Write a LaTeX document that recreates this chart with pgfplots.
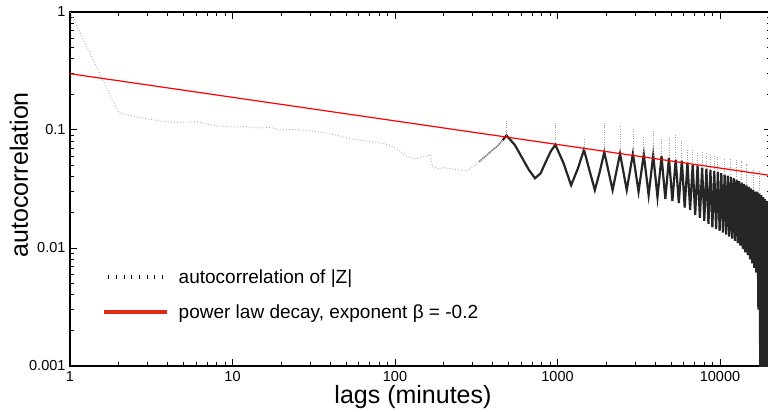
\documentclass[border=0pt]{standalone}
\usepackage{fontspec}
\setmainfont{Liberation Sans}
\usepackage{pgfplots}
\pgfplotsset{compat=1.18}
\definecolor{legred}{RGB}{222,45,18}
\begin{document}
\begin{tikzpicture}
\path[use as bounding box] (-70pt,-46pt) rectangle (698pt,366pt);
\begin{axis}[
  scale only axis, width=700.7pt, height=354pt,
  xmode=log, ymode=log, xmin=1, xmax=20500, ymin=0.001, ymax=1,
  axis line style={line width=1.3pt},
  every tick/.style={black, line width=1pt},
  major tick length=7pt, minor tick length=4pt,
  xtick={1,10,100,1000,10000}, xticklabels={1,10,100,1000,10000},
  ytick={0.001,0.01,0.1,1}, yticklabels={0.001,0.01,0.1,1},
  minor xtick={2,3,4,5,6,7,8,9,20,30,40,50,60,70,80,90,200,300,400,500,600,700,800,900,2000,3000,4000,5000,6000,7000,8000,9000,20000},
  minor ytick={0.002,0.003,0.004,0.005,0.006,0.007,0.008,0.009,0.02,0.03,0.04,0.05,0.06,0.07,0.08,0.09,0.2,0.3,0.4,0.5,0.6,0.7,0.8,0.9},
  ticklabel style={font=\fontsize{14.5}{14.5}\selectfont},
  xticklabel style={yshift=-2pt},
  yticklabel style={xshift=-1pt},
  /pgf/number format/assume math mode=true,
  xlabel={lags (minutes)}, ylabel={autocorrelation},
  label style={font=\fontsize{25}{25}\selectfont},
  xlabel style={at={(axis description cs:0.4895,-0.107)}, anchor=base},
  ylabel style={at={(axis description cs:-0.06,0.54)}, anchor=base},
  unbounded coords=jump,
  legend style={draw=none, fill=none, at={(axis description cs:0.045,0.279)}, anchor=north west,
    font=\fontsize{19}{19}\selectfont, inner sep=0pt, row sep=16pt,
    /tikz/every odd column/.append style={column sep=8pt}},
  legend cell align=left,
]
% low lags (sparse, grey dots)
\addplot[forget plot, gray!65, line width=0.9pt, dash pattern=on 0.9pt off 2pt] coordinates {
(1,1.0) (2,0.139) (3,0.124) (4,0.117) (5,0.116) (6,0.118) (7,0.112) (8,0.108)
(10,0.106) (12,0.107) (14,0.104) (17,0.105) (20,0.100) (24,0.101) (28,0.099)
(33,0.097) (38,0.094) (44,0.090) (50,0.086) (57,0.083) (65,0.081) (75,0.079)
(85,0.077) (95,0.073) (105,0.068) (115,0.061) (125,0.058) (135,0.057) (145,0.059)
(155,0.060) (165,0.062) (170,0.049) (185,0.047) (200,0.048) (220,0.047) (245,0.046)
(270,0.045) (290,0.047) (310,0.050) (340,0.056) (370,0.062) (400,0.068) (430,0.074)
};
% rising flank before the first daily peak (denser, dark grey)
\addplot[forget plot, black!55, line width=1.6pt, dash pattern=on 1.2pt off 0.8pt] coordinates {
(330,0.054) (370,0.062) (400,0.068) (430,0.074) (460,0.082)
};
% oscillating part (dense, black)
\addplot[forget plot, black!85, line width=2.2pt] coordinates {
(460,0.082) (485,0.090)
(545,0.075) (606,0.058) (666,0.046) (727,0.039) (788,0.043) (848,0.054) (909,0.066) (970,0.075)
(1091,0.052) (1212,0.034) (1333,0.047) (1455,0.068)
(1576,0.045) (1697,0.031) (1818,0.044) (1940,0.065)
(2182,0.031) (2425,0.063)
(2667,0.031) (2910,0.063)
(3152,0.030) (3395,0.062)
(3637,0.028) (3880,0.061)
(4122,0.027) (4365,0.060)
(4607,0.026) (4850,0.058)
(5092,0.025) (5335,0.056)
(5577,0.024) (5820,0.055)
(6062,0.022) (6305,0.053)
(6547,0.021) (6790,0.051)
(7032,0.019) (7275,0.050)
(7517,0.018) (7760,0.048)
(8002,0.017) (8245,0.047)
(8487,0.016) (8730,0.046)
(8972,0.015) (9215,0.045)
(9457,0.0145) (9700,0.044)
(9942,0.014) (10185,0.043)
(10427,0.0135) (10670,0.042)
(10912,0.013) (11155,0.041)
(11397,0.0125) (11640,0.040)
(11882,0.012) (12125,0.039)
(12367,0.0115) (12610,0.038)
(12852,0.011) (13095,0.037)
(13337,0.0105) (13580,0.036)
(13822,0.0098) (14065,0.035)
(14307,0.0092) (14550,0.034)
(14792,0.0087) (15035,0.033)
(15277,0.008) (15520,0.032)
(15762,0.0074) (16005,0.031)
(16247,0.0068) (16490,0.030)
(16732,0.0062) (16975,0.030)
(17217,0.003) (17460,0.029)
(17702,0.0006) (17945,0.028)
(18187,0.0005) (18430,0.027)
(18672,0.0005) (18915,0.026)
(19157,0.0005) (19400,0.025)
(19642,0.0005) (19885,0.024)
(20000,0.0005)
};
% sparse spikes above the peaks
\addplot[forget plot, gray!75, line width=0.8pt, dash pattern=on 0.8pt off 1.6pt] coordinates {
(485,0.090) (485,0.120) (485,nan)
(970,0.075) (970,0.115) (970,nan)
(1455,0.068) (1455,0.085) (1455,nan)
(1940,0.065) (1940,0.115) (1940,nan)
(2425,0.063) (2425,0.110) (2425,nan)
(2910,0.063) (2910,0.105) (2910,nan)
(3395,0.062) (3395,0.090) (3395,nan)
(3880,0.061) (3880,0.100) (3880,nan)
(4365,0.060) (4365,0.085) (4365,nan)
(4850,0.058) (4850,0.085) (4850,nan)
(5335,0.056) (5335,0.090) (5335,nan)
(5820,0.055) (5820,0.082) (5820,nan)
(6305,0.053) (6305,0.070) (6305,nan)
(6790,0.051) (6790,0.068) (6790,nan)
(7275,0.050) (7275,0.066) (7275,nan)
(7760,0.048) (7760,0.065) (7760,nan)
(8245,0.047) (8245,0.064) (8245,nan)
(8730,0.046) (8730,0.063) (8730,nan)
(9215,0.045) (9215,0.062) (9215,nan)
(9700,0.044) (9700,0.060) (9700,nan)
(10670,0.042) (10670,0.058) (10670,nan)
(11640,0.040) (11640,0.057) (11640,nan)
(12610,0.038) (12610,0.056) (12610,nan)
(13580,0.036) (13580,0.055) (13580,nan)
(14550,0.034) (14550,0.052) (14550,nan)
(16005,0.031) (16005,0.047) (16005,nan)
(17460,0.029) (17460,0.045) (17460,nan)
};
% power law fit
\addplot[forget plot, red, line width=1.2pt] coordinates {(1,0.3) (20500,0.0412)};
\addlegendimage{legend image code/.code={
  \path (0pt,0pt) (63pt,0pt);
  \foreach \i in {0,...,7}{\draw[black,line width=1pt] (5pt+\i*7.7pt,-2pt) -- ++(0pt,4pt);}
}}
\addlegendentry{autocorrelation of |Z|}
\addlegendimage{legend image code/.code={\draw[legred,line width=4pt] (0pt,0pt) -- (63pt,0pt);}}
\addlegendentry{power law decay, exponent β = -0.2}
\end{axis}
\end{tikzpicture}
\end{document}
